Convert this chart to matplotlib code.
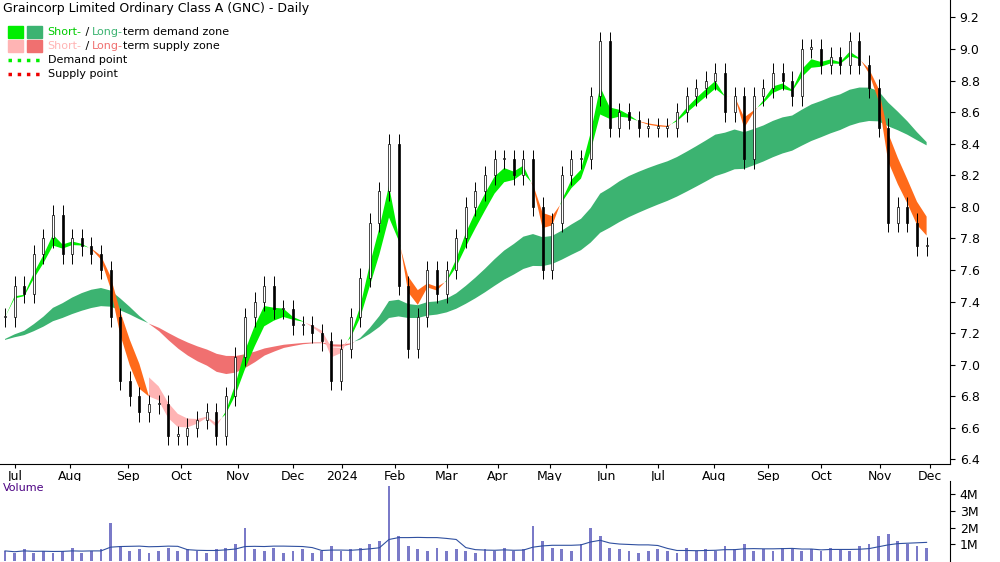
import numpy as np
import matplotlib
matplotlib.use("Agg")
import matplotlib.pyplot as plt
import pandas as pd

# closes sampled about every 4 trading days (Jul 2023 - Nov 2024)
closes = [7.3,7.5,7.45,7.7,7.8,7.95,7.7,7.8,7.75,7.7,7.6,7.3,6.9,6.8,6.7,6.75,6.75,6.55,6.55,6.6,
          6.65,6.7,6.55,6.8,7.05,7.3,7.4,7.5,7.35,7.35,7.25,7.25,7.2,7.15,6.9,7.1,7.3,7.55,7.9,8.1,
          8.4,7.5,7.1,7.3,7.6,7.45,7.6,7.8,8.0,8.1,8.2,8.3,8.3,8.2,8.3,8.0,7.6,7.9,8.2,8.3,
          8.3,8.7,9.05,8.5,8.6,8.55,8.5,8.5,8.5,8.5,8.6,8.7,8.75,8.8,8.85,8.6,8.7,8.3,8.7,8.75,
          8.85,8.8,8.7,9.0,9.0,8.9,8.95,8.9,9.05,8.9,8.75,8.5,7.9,8.0,7.9,7.75,7.75]
volumes = [0.6,0.5,0.7,0.5,0.6,0.5,0.6,0.8,0.5,0.6,0.7,2.3,0.9,0.6,0.7,0.5,0.6,0.8,0.6,0.7,
           0.6,0.5,0.7,0.8,1.0,2.0,0.7,0.6,0.8,0.5,0.6,0.7,0.5,0.6,0.9,0.6,0.7,0.8,1.0,1.2,
           4.5,1.5,0.9,0.7,0.6,0.8,0.6,0.7,0.6,0.5,0.7,0.6,0.8,0.6,0.7,2.1,1.2,0.8,0.7,0.6,
           1.0,2.0,1.5,0.8,0.7,0.6,0.5,0.6,0.7,0.6,0.5,0.8,0.6,0.7,0.6,0.9,0.7,1.0,0.6,0.7,
           0.6,0.8,0.7,0.6,0.7,0.6,0.8,0.7,0.6,0.9,1.0,1.5,1.6,1.2,1.0,0.9,0.8]
month_labels = ["Jul","Aug","Sep","Oct","Nov","Dec","2024","Feb","Mar","Apr","May","Jun","Jul","Aug","Sep","Oct","Nov","Dec"]
month_px = [15,70,128,181,238,293,342,395,447,498,550,606,658,714,768,821,880,930]
long_start = 7.15

n = len(closes)
x = np.arange(n)
PX0, DPX = 5, 9.6
def px2x(p): return (p - PX0) / DPX

c = pd.Series(closes)
s1, s2 = c.ewm(span=3).mean(), c.ewm(span=5).mean()
cl_long = pd.Series([long_start] * 3 + closes)
l1 = cl_long.ewm(span=22, adjust=False).mean()[3:].reset_index(drop=True)
l2 = cl_long.ewm(span=40, adjust=False).mean()[3:].reset_index(drop=True)

fig = plt.figure(figsize=(10, 5.62), dpi=100)
ax = fig.add_axes([0, 0.174, 0.95, 0.826])
axv = fig.add_axes([0, 0.002, 0.95, 0.142], sharex=ax)

ax.fill_between(x, l1, l2, where=l1 >= l2, color="#3cb371", interpolate=True, lw=0, zorder=1)
ax.fill_between(x, l1, l2, where=l1 < l2, color="#f07070", interpolate=True, lw=0, zorder=1)
ax.fill_between(x, s1, s2, where=s1 >= s2, color="#00ee00", interpolate=True, lw=0, zorder=2)
up_long = (l1 >= l2).values
ax.fill_between(x, s1, s2, where=(s1 < s2) & up_long, color="#ff6a1a", interpolate=True, lw=0, zorder=2)
ax.fill_between(x, s1, s2, where=(s1 < s2) & ~up_long, color="#ffb4b4", interpolate=True, lw=0, zorder=2)

opens = [closes[0]] + closes[:-1]
for i in range(n):
    o, cl = opens[i], closes[i]
    hi, lo = max(o, cl) + 0.06, min(o, cl) - 0.06
    ax.vlines(i, lo, hi, color="black", lw=0.7, zorder=3)
    ax.bar(i, max(abs(cl - o), 0.01), bottom=min(o, cl), width=0.22,
           color="white" if cl >= o else "black", edgecolor="black", lw=0.5, zorder=4)

ax.set_ylim(6.37, 9.31)
ax.set_xlim(px2x(0), px2x(950))
ax.yaxis.tick_right()
yt = np.arange(6.4, 9.21, 0.2)
ax.set_yticks(yt)
ax.set_yticklabels([f"{v:.1f}" for v in yt], fontsize=9)
ax.set_xticks([px2x(p) for p in month_px])
ax.set_xticklabels(month_labels, fontsize=9)
ax.tick_params(axis="x", length=3, pad=1)
for sp in ["top", "left"]:
    ax.spines[sp].set_visible(False)
ax.text(0.003, 0.995, "Graincorp Limited Ordinary Class A (GNC) - Daily", transform=ax.transAxes,
        fontsize=9, va="top")

lx, ly = 0.008, 0.93
items = [("#00ee00", "#3cb371", [("Short-", "#00cc00"), (" / ", "black"), ("Long-", "#3cb371"), ("term demand zone", "black")]),
         ("#ffb4b4", "#f07070", [("Short-", "#ffb4b4"), (" / ", "black"), ("Long-", "#f07070"), ("term supply zone", "black")])]
for k, (ca, cb, parts) in enumerate(items):
    yy = ly - k * 0.03
    ax.add_patch(plt.Rectangle((lx, yy - 0.012), 0.016, 0.025, transform=ax.transAxes, color=ca))
    ax.add_patch(plt.Rectangle((lx + 0.02, yy - 0.012), 0.016, 0.025, transform=ax.transAxes, color=cb))
    t = None
    for txt, col in parts:
        if t is None:
            t = ax.text(lx + 0.042, yy, txt, color=col, fontsize=8, transform=ax.transAxes, va="center")
        else:
            t = ax.annotate(txt, xycoords=t, xy=(1, 0), va="bottom", color=col, fontsize=8)
for k, (col, txt) in enumerate([("#00ee00", "Demand point"), ("#ee0000", "Supply point")]):
    yy = ly - (k + 2) * 0.03
    ax.plot([lx, lx + 0.036], [yy, yy], color=col, ls=":", lw=2.5, transform=ax.transAxes)
    ax.text(lx + 0.042, yy, txt, fontsize=8, transform=ax.transAxes, va="center")

axv.bar(x, volumes, width=0.3, color="#7a7ac8")
axv.plot(x, pd.Series(volumes).rolling(8, min_periods=1).mean(), color="#3050a0", lw=0.8)
axv.set_ylim(0, 4.8)
axv.yaxis.tick_right()
axv.set_yticks([1, 2, 3, 4])
axv.set_yticklabels(["1M", "2M", "3M", "4M"], fontsize=9)
axv.tick_params(axis="x", bottom=False, labelbottom=False)
for sp in ["top", "left", "bottom"]:
    axv.spines[sp].set_visible(False)
axv.text(0.003, 0.97, "Volume", color="#4b0082", transform=axv.transAxes, fontsize=8, va="top")

fig.savefig("out.png", dpi=100)
